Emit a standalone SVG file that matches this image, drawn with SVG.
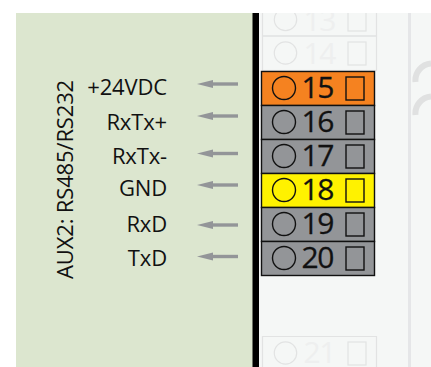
<svg xmlns="http://www.w3.org/2000/svg" width="431" height="367" viewBox="0 0 431 367">
<defs>
<marker id="ah" markerUnits="userSpaceOnUse" markerWidth="16" markerHeight="9" refX="1" refY="4.500" orient="auto"><path d="M0 0.500L16 4.500L0 8.500Z" fill="#939598"/></marker>
<clipPath id="top"><rect x="258" y="13" width="173" height="354"/></clipPath>
</defs>
<style>
.l{font:22px "Open Sans","Noto Sans",sans-serif;fill:#111;text-anchor:end;letter-spacing:-.15px}
.n{font:30px "Open Sans","Noto Sans",sans-serif;fill:#111;letter-spacing:-1.5px;stroke:#111;stroke-width:.3}
.f{fill:none;stroke:#e2e3e3;stroke-width:1.2}
.ft{font:30px "Open Sans","Noto Sans",sans-serif;fill:#eeefef;letter-spacing:-1.5px}
.s{stroke:#111;stroke-width:1.4}
.i{fill:none;stroke:#111;stroke-width:1.4}
.c{stroke:#939598;stroke-width:3.400;fill:none;marker-end:url(#ah)}
</style>
<rect x="16" y="13" width="237" height="354" fill="#dce6cf"/>
<rect x="258" y="13" width="173" height="354" fill="#f5f7f6"/>
<rect x="408" y="13" width="3" height="354" fill="#e5e6e8"/>
<path d="M415.500 82A17 17 0 0 1 431 63.500M415.500 115A17 17 0 0 1 431 96.500" fill="none" stroke="#e0e1e1" stroke-width="6"/>
<rect x="252.500" y="13" width="6.500" height="354" fill="#000"/>
<text class="l" transform="translate(72.500 279) rotate(-90)" style="text-anchor:start">AUX2: RS485/RS232</text>
<g id="n13" clip-path="url(#top)"><path class="f" d="M262.500 13V36H376.500V13"/><circle class="f" cx="285.500" cy="19.500" r="11.200"/><text class="ft" x="303.500" y="31">13</text><rect class="f" x="348" y="10" width="18" height="21"/></g>
<g id="n14"><rect class="f" x="262.500" y="36" width="114" height="34.500"/><circle class="f" cx="285.500" cy="53" r="11.200"/><text class="ft" x="303.500" y="64">14</text><rect class="f" x="348" y="42" width="18" height="23"/></g>
<g id="n15"><rect class="s" x="261.500" y="71.500" width="113" height="34" fill="#f58220"/><circle class="i" cx="284" cy="88" r="11.500"/><text class="n" x="301.500" y="98">15</text><rect class="i" x="346" y="77" width="18" height="23"/></g>
<g id="n16"><rect class="s" x="261.500" y="105.500" width="113" height="34" fill="#939598"/><circle class="i" cx="284" cy="122" r="11.500"/><text class="n" x="301.500" y="132">16</text><rect class="i" x="346" y="111" width="18" height="23"/></g>
<g id="n17"><rect class="s" x="261.500" y="139.500" width="113" height="34" fill="#939598"/><circle class="i" cx="284" cy="156" r="11.500"/><text class="n" x="301.500" y="166">17</text><rect class="i" x="346" y="145" width="18" height="23"/></g>
<g id="n18"><rect class="s" x="261.500" y="173.500" width="113" height="34" fill="#fff200"/><circle class="i" cx="284" cy="190" r="11.500"/><text class="n" x="301.500" y="200">18</text><rect class="i" x="346" y="179" width="18" height="23"/></g>
<g id="n19"><rect class="s" x="261.500" y="207.500" width="113" height="34" fill="#939598"/><circle class="i" cx="284" cy="224" r="11.500"/><text class="n" x="301.500" y="234">19</text><rect class="i" x="346" y="213" width="18" height="23"/></g>
<g id="n20"><rect class="s" x="261.500" y="241.500" width="113" height="34" fill="#939598"/><circle class="i" cx="284" cy="258" r="11.500"/><text class="n" x="301.500" y="268">20</text><rect class="i" x="346" y="247" width="18" height="23"/></g>
<g id="n21"><path class="f" d="M262.500 367V336.500H376.500V367"/><circle class="f" cx="285.500" cy="353" r="11.200"/><text class="ft" x="303.500" y="363">21</text><rect class="f" x="348" y="342" width="18" height="23"/></g>
<g id="labels">
<text class="l" x="167" y="94.500">+24VDC</text>
<text class="l" x="167" y="130">RxTx+</text>
<text class="l" x="167" y="164">RxTx-</text>
<text class="l" x="167" y="196">GND</text>
<text class="l" x="167" y="232">RxD</text>
<text class="l" x="167" y="266">TxD</text>
</g>
<g id="connectors">
<path class="c" d="M238 84H212"/>
<path class="c" d="M238 116H212"/>
<path class="c" d="M238 153.500H212"/>
<path class="c" d="M238 185H212"/>
<path class="c" d="M238 225H212"/>
<path class="c" d="M238 256.500H212"/>
</g>
</svg>
